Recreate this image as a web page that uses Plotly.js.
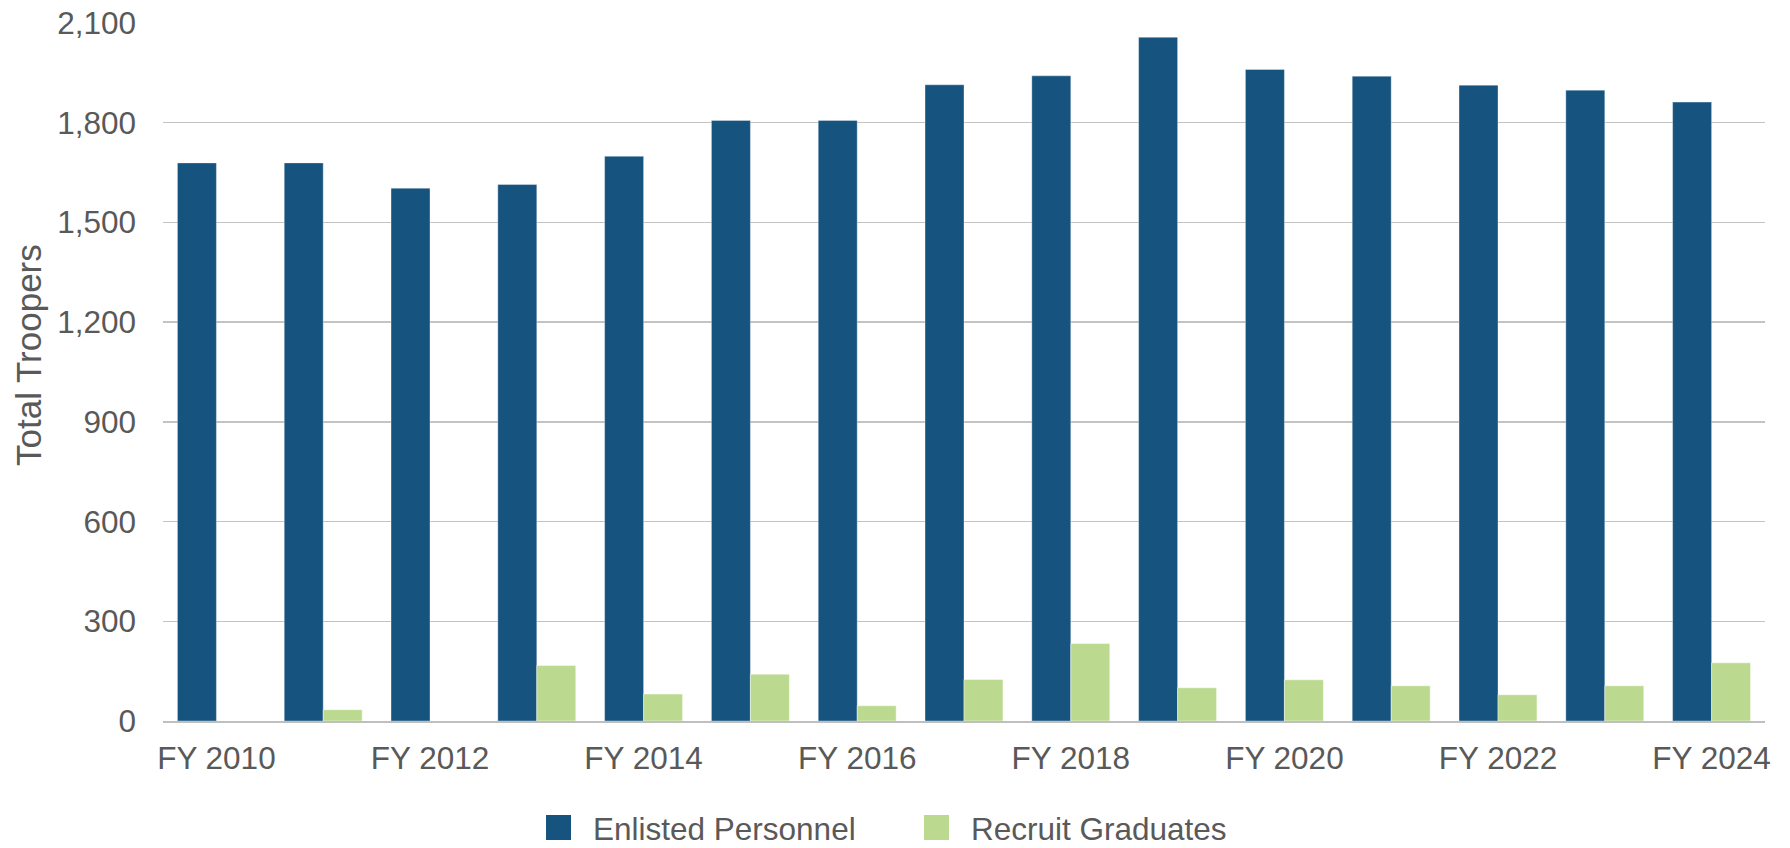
<!DOCTYPE html>
<html>
<head>
<meta charset="utf-8">
<script src="https://cdn.plot.ly/plotly-3.0.1.min.js"></script>
<style>
html, body { margin: 0; padding: 0; background: #ffffff; }
#chart { width: 1790px; height: 848px; }
</style>
</head>
<body>
<div id="chart"></div>
<script>
// ---- Data ----
const categories = ["FY 2010", "FY 2011", "FY 2012", "FY 2013", "FY 2014", "FY 2015", "FY 2016",
                    "FY 2017", "FY 2018", "FY 2019", "FY 2020", "FY 2021", "FY 2022", "FY 2023", "FY 2024"];
const enlistedPersonnel = [1679, 1679, 1603, 1614, 1699, 1807, 1807, 1914, 1941, 2057, 1960, 1940, 1913, 1898, 1862];
const recruitGraduates  = [null, 34, null, 167, 81, 141, 46, 125, 233, 100, 124, 106, 79, 106, 175];
const seriesNames = ["Enlisted Personnel", "Recruit Graduates"];
const yTickValues = [0, 300, 600, 900, 1200, 1500, 1800, 2100];
const xTickLabels = categories.filter((c, i) => i % 2 === 0);
const yAxisTitle = "Total Troopers";

// ---- Styling ----
const W = 1790, H = 848;
const M = { l: 163, r: 25, t: 23, b: 127 };
const colors = ["#16537E", "#BBDA90"];
const textColor = "#595959";
const gridColor = "#C3C3C3";
const FONT = "Arial, 'Liberation Sans', sans-serif";
const FS = 31.5;

const traces = [
  {
    type: "bar", name: seriesNames[0], x: categories, y: enlistedPersonnel,
    marker: { color: colors[0], line: { color: "rgba(255,255,255,0.35)", width: 1 } },
    showlegend: false, hoverinfo: "x+y+name"
  },
  {
    type: "bar", name: seriesNames[1], x: categories, y: recruitGraduates,
    marker: { color: colors[1], line: { color: "rgba(255,255,255,0.45)", width: 1 } },
    showlegend: false, hoverinfo: "x+y+name"
  }
];

// pixel -> paper helpers for layout decorations
const plotW = W - M.l - M.r, plotH = H - M.t - M.b;
const px2x = px => (px - M.l) / plotW;
const px2y = py => (H - M.b - py) / plotH;

// custom legend (large square swatches like the original)
const legendItems = [
  { left: 546, text: seriesNames[0], color: colors[0] },
  { left: 924, text: seriesNames[1], color: colors[1] }
];
const swTop = 815, swSize = 25;
const shapes = [], annotations = [];
legendItems.forEach(it => {
  shapes.push({
    type: "rect", xref: "paper", yref: "paper",
    x0: px2x(it.left), x1: px2x(it.left + swSize),
    y0: px2y(swTop + swSize), y1: px2y(swTop),
    fillcolor: it.color, line: { width: 0 }
  });
  annotations.push({
    xref: "paper", yref: "paper", x: px2x(it.left + 46), y: px2y(829),
    xanchor: "left", yanchor: "middle", showarrow: false, borderpad: 0,
    text: it.text, font: { family: FONT, size: FS, color: textColor }
  });
});

// y-axis title (rotated), placed like the original
annotations.push({
  xref: "paper", yref: "paper", x: px2x(28), y: px2y(355),
  xanchor: "center", yanchor: "middle", textangle: -90, showarrow: false, borderpad: 0,
  text: yAxisTitle, font: { family: FONT, size: 35, color: textColor }
});

const layout = {
  width: W, height: H,
  margin: M,
  paper_bgcolor: "#ffffff", plot_bgcolor: "#ffffff",
  font: { family: FONT, size: FS, color: textColor },
  barmode: "group", bargap: 0.27, bargroupgap: 0,
  showlegend: false,
  xaxis: {
    type: "category",
    tickmode: "array", tickvals: xTickLabels, ticktext: xTickLabels,
    showgrid: false, showline: true, linecolor: "#BFBFBF", linewidth: 2,
    ticks: "", ticklabelstandoff: 8,
    tickfont: { family: FONT, size: FS, color: textColor },
    zeroline: false, fixedrange: true
  },
  yaxis: {
    range: [0, 2100], tickmode: "array", tickvals: yTickValues, tickformat: ",",
    showgrid: true, gridcolor: gridColor, gridwidth: 1.5,
    zeroline: false, showline: false, ticks: "", ticklabelstandoff: 26,
    tickfont: { family: FONT, size: FS, color: textColor },
    fixedrange: true
  },
  shapes: shapes,
  annotations: annotations
};

Plotly.newPlot("chart", traces, layout, { displayModeBar: false, staticPlot: true });
</script>
</body>
</html>
